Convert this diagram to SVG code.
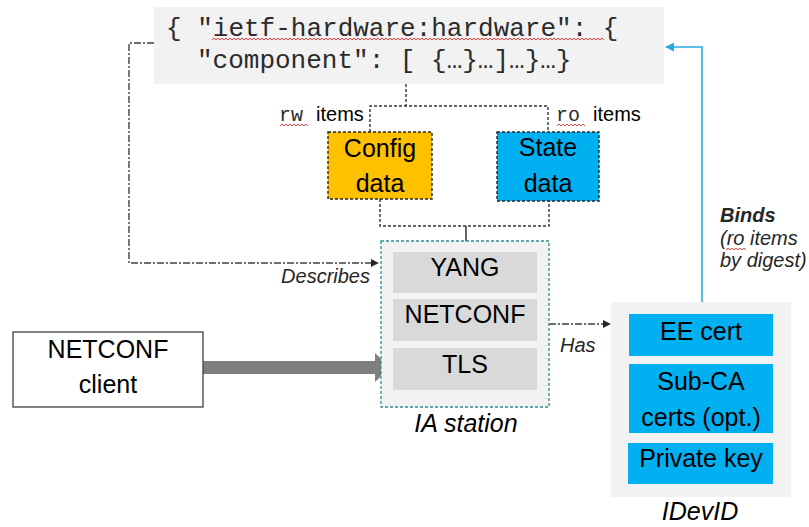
<svg xmlns="http://www.w3.org/2000/svg" width="809" height="527" viewBox="0 0 809 527">
  <style>
    .sans { font-family: "Liberation Sans", Arial, sans-serif; fill: #000; }
    .mono { font-family: "Liberation Mono", "Courier New", monospace; fill: #2b2b2b; }
    .lbl { font-size: 25px; text-anchor: middle; }
    .cap { font-size: 20px; font-style: italic; fill: #262626; }
    .dot { fill: none; stroke: #333; stroke-width: 1.4; stroke-dasharray: 3 2; }
    .dashdot { fill: none; stroke: #404040; stroke-width: 1.4; stroke-dasharray: 7 2 2 2; }
    .squig { fill: none; stroke: #e03030; stroke-width: 0.9; }
  </style>
  <defs>
    <marker id="tipDark" viewBox="0 0 10 10" refX="9" refY="5" markerWidth="8" markerHeight="8" markerUnits="userSpaceOnUse" orient="auto">
      <path d="M0,0 L10,5 L0,10 z" fill="#262626"/>
    </marker>
    <marker id="tipBlue" viewBox="0 0 10 10" refX="9" refY="5" markerWidth="9" markerHeight="9" markerUnits="userSpaceOnUse" orient="auto">
      <path d="M0,0 L10,5 L0,10 z" fill="#29ABE2"/>
    </marker>
  </defs>

  <rect width="809" height="527" fill="#ffffff"/>

  <!-- connectors -->
  <g id="connectors">
    <!-- data tree split into rw / ro items -->
    <path class="dot" d="M406,84 V106 M370,132 V106 H548 V132"/>
    <!-- config + state merge into YANG -->
    <path class="dot" d="M380,199 V226 H549 V201"/>
    <path d="M466,226 V252" fill="none" stroke="#262626" stroke-width="1.4"/>
    <!-- Describes -->
    <path class="dashdot" d="M154,43 H129 V263 H378" marker-end="url(#tipDark)"/>
    <!-- Has -->
    <path class="dashdot" d="M549,324 H610" marker-end="url(#tipDark)"/>
    <!-- Binds -->
    <path d="M702,314 V47 H666" fill="none" stroke="#29ABE2" stroke-width="1.6" marker-end="url(#tipBlue)"/>
    <!-- client to TLS -->
    <path d="M203,361 H375 V353 L390,367.5 L375,382 V374 H203 z" fill="#7f7f7f"/>
  </g>

  <!-- JSON data tree -->
  <g id="json">
    <rect x="154" y="7" width="510" height="77" fill="#f2f2f2"/>
    <text class="mono" x="166" y="36" font-size="26">{ "ietf-hardware:hardware": {</text>
    <text class="mono" x="197" y="68" font-size="26">"component": [ {…}…]…}…}</text>
    <path class="squig" d="M212,40 l2,-2 l2,2 l2,-2 l2,2 l2,-2 l2,2 l2,-2 l2,2 l2,-2 l2,2 l2,-2 l2,2 l2,-2 l2,2 l2,-2 l2,2 l2,-2 l2,2 l2,-2 l2,2 l2,-2 l2,2 l2,-2 l2,2 l2,-2 l2,2 l2,-2 l2,2 l2,-2 l2,2 l2,-2 l2,2 l2,-2 l2,2 l2,-2 l2,2 l2,-2 l2,2 l2,-2 l2,2 l2,-2 l2,2 l2,-2 l2,2 l2,-2 l2,2 l2,-2 l2,2 l2,-2 l2,2 l2,-2 l2,2 l2,-2 l2,2 l2,-2 l2,2 l2,-2 l2,2 l2,-2 l2,2 l2,-2 l2,2 l2,-2 l2,2 l2,-2 l2,2 l2,-2 l2,2 l2,-2 l2,2 l2,-2 l2,2 l2,-2 l2,2 l2,-2 l2,2 l2,-2 l2,2 l2,-2 l2,2 l2,-2 l2,2 l2,-2 l2,2 l2,-2 l2,2 l2,-2 l2,2 l2,-2 l2,2 l2,-2 l2,2 l2,-2 l2,2 l2,-2 l2,2 l2,-2 l2,2 l2,-2 l2,2 l2,-2 l2,2 l2,-2 l2,2 l2,-2 l2,2 l2,-2 l2,2 l2,-2 l2,2 l2,-2 l2,2 l2,-2 l2,2 l2,-2 l2,2 l2,-2 l2,2 l2,-2 l2,2 l2,-2 l2,2 l2,-2 l2,2 l2,-2 l2,2 l2,-2 l2,2 l2,-2 l2,2 l2,-2 l2,2 l2,-2 l2,2 l2,-2 l2,2 l2,-2 l2,2 l2,-2 l2,2 l2,-2 l2,2 l2,-2 l2,2 l2,-2 l2,2 l2,-2 l2,2 l2,-2 l2,2 l2,-2 l2,2 l2,-2 l2,2 l2,-2 l2,2 l2,-2 l2,2 l2,-2 l2,2 l2,-2 l2,2 l2,-2 l2,2 l2,-2 l2,2 l2,-2 l2,2 l2,-2 l2,2 l2,-2 l2,2 l2,-2 l2,2 l2,-2 l2,2 l2,-2 l2,2 l2,-2 l2,2 l2,-2 l2,2 l2,-2 l2,2 l2,-2 l2,2 l2,-2 l2,2 l2,-2 l2,2 l2,-2 l2,2 l2,-2 l2,2 l2,-2 l2,2"/>
  </g>

  <!-- rw / ro labels -->
  <g id="rw-label">
    <text x="279" y="121"><tspan class="mono" font-size="20">rw</tspan><tspan class="sans" font-size="20" dx="13">items</tspan></text>
    <path class="squig" d="M280,126 l2,-2 l2,2 l2,-2 l2,2 l2,-2 l2,2 l2,-2 l2,2 l2,-2 l2,2 l2,-2 l2,2 l2,-2 l2,2"/>
  </g>
  <g id="ro-label">
    <text x="556" y="121"><tspan class="mono" font-size="20">ro</tspan><tspan class="sans" font-size="20" dx="13">items</tspan></text>
    <path class="squig" d="M557,126 l2,-2 l2,2 l2,-2 l2,2 l2,-2 l2,2 l2,-2 l2,2 l2,-2 l2,2 l2,-2 l2,2 l2,-2 l2,2"/>
  </g>

  <!-- config data -->
  <g id="config-data">
    <rect x="328" y="132" width="104" height="67" fill="#ffc000" stroke="#262626" stroke-width="1.4" stroke-dasharray="3 2"/>
    <text class="sans lbl" x="380" y="157">Config</text>
    <text class="sans lbl" x="380" y="192">data</text>
  </g>

  <!-- state data -->
  <g id="state-data">
    <rect x="497" y="132" width="102" height="69" fill="#00b0f0" stroke="#262626" stroke-width="1.4" stroke-dasharray="3 2"/>
    <text class="sans lbl" x="548" y="156">State</text>
    <text class="sans lbl" x="548" y="192">data</text>
  </g>

  <!-- IA station -->
  <g id="ia-station">
    <rect x="381" y="241" width="168" height="166" fill="#f2f2f2" stroke="#2a8f8f" stroke-width="1.3" stroke-dasharray="3 2"/>
    <rect x="393" y="252" width="144" height="41" fill="#d9d9d9"/>
    <rect x="393" y="299" width="144" height="42" fill="#d9d9d9"/>
    <rect x="393" y="348" width="144" height="42" fill="#d9d9d9"/>
    <text class="sans lbl" x="465" y="276">YANG</text>
    <text class="sans lbl" x="465" y="323">NETCONF</text>
    <text class="sans lbl" x="465" y="373">TLS</text>
    <text class="sans lbl" x="466" y="432" font-style="italic" fill="#1a1a1a">IA station</text>
  </g>

  <!-- NETCONF client -->
  <g id="netconf-client">
    <rect x="13" y="332" width="190" height="75" fill="#ffffff" stroke="#404040" stroke-width="1.3"/>
    <text class="sans lbl" x="108" y="358">NETCONF</text>
    <text class="sans lbl" x="108" y="393">client</text>
  </g>

  <!-- IDevID -->
  <g id="idevid">
    <rect x="611" y="302" width="180" height="195" fill="#f2f2f2"/>
    <rect x="629" y="314" width="144" height="42" fill="#00b0f0"/>
    <rect x="629" y="364" width="144" height="69" fill="#00b0f0"/>
    <rect x="628" y="443" width="145" height="41" fill="#00b0f0"/>
    <text class="sans lbl" x="701" y="340">EE cert</text>
    <text class="sans lbl" x="701" y="390">Sub-CA</text>
    <text class="sans lbl" x="701" y="426">certs (opt.)</text>
    <text class="sans lbl" x="701" y="467">Private key</text>
    <text class="sans lbl" x="700" y="520" font-style="italic" fill="#1a1a1a">IDevID</text>
  </g>

  <!-- connector labels -->
  <g id="labels">
    <text class="sans cap" x="370" y="283" text-anchor="end">Describes</text>
    <text class="sans cap" x="560" y="352">Has</text>
    <text class="sans cap" x="720" y="222" font-weight="bold" fill="#000">Binds</text>
    <text class="sans cap" x="720" y="245">(ro items</text>
    <text class="sans cap" x="720" y="267">by digest)</text>
    <path class="squig" d="M726,250 l2,-2 l2,2 l2,-2 l2,2 l2,-2 l2,2 l2,-2 l2,2 l2,-2 l2,2"/>
  </g>
</svg>
